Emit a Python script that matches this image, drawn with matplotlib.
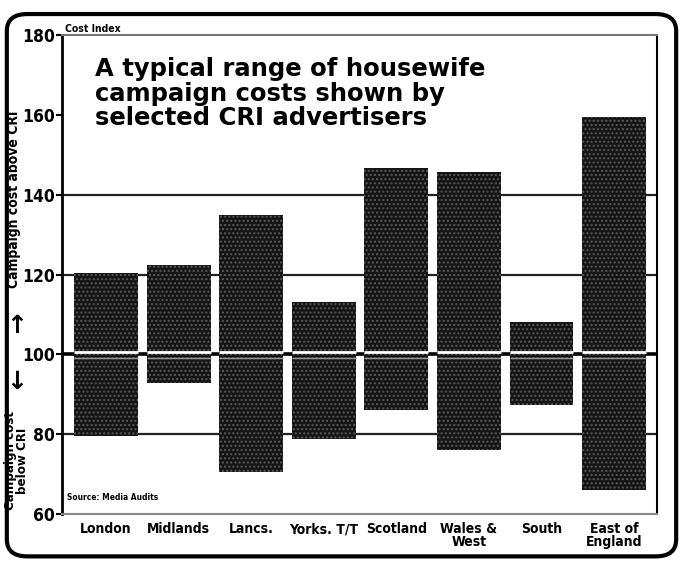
import matplotlib
matplotlib.use("Agg")
import matplotlib.pyplot as plt
from matplotlib.patches import FancyBboxPatch

# ---- data ----
regions = ["London", "Midlands", "Lancs.", "Yorks. T/T", "Scotland",
           "Wales &\nWest", "South", "East of\nEngland"]
cost_high = [120.3, 122.4, 135.0, 113.0, 146.6, 145.6, 108.2, 159.4]
cost_low = [79.5, 92.8, 70.5, 78.8, 86.1, 76.0, 87.4, 66.0]
yticks = [60, 80, 100, 120, 140, 160, 180]

cond = dict(family="DejaVu Sans", fontstretch="condensed", fontweight="bold")

fig = plt.figure(figsize=(6.83, 5.62), dpi=100)
ax = fig.add_axes([0.0908, 0.0854, 0.871, 0.8523])

x = list(range(len(regions)))
heights = [h - l for h, l in zip(cost_high, cost_low)]

# grid lines behind bars
for g in [80, 120, 140]:
    ax.axhline(g, color="#222222", lw=1.6, zorder=1)
ax.axhline(100, color="black", lw=2.6, zorder=1)

ax.bar(x, heights, bottom=cost_low, width=0.88, color="#151515",
       edgecolor="#5a5a5a", linewidth=0, hatch="....", zorder=2)
# white stripe across each bar at the index line
for xi in x:
    ax.hlines(100.6, xi - 0.44, xi + 0.44, color="white", lw=2.0, zorder=3)
    ax.hlines(99.2, xi - 0.44, xi + 0.44, color="#9a9a9a", lw=1.0, zorder=3)

ax.set_xlim(-0.606, 7.59)
ax.set_ylim(60, 180)
ax.set_yticks(yticks)
ax.set_yticklabels([str(t) for t in yticks], fontsize=12.5, **cond)
ax.tick_params(axis="y", length=4, width=1.5, pad=1)
ax.set_xticks(x)
ax.set_xticklabels(regions, fontsize=10, linespacing=0.85, **cond)
ax.tick_params(axis="x", length=0, pad=6)

ax.spines["left"].set_linewidth(2.0)
ax.spines["top"].set_color("#777777")
ax.spines["top"].set_linewidth(1.5)
ax.spines["bottom"].set_color("#888888")
ax.spines["bottom"].set_linewidth(1.5)
ax.spines["right"].set_linewidth(1.5)

# title inside the plot
ax.text(0.055, 0.955, "A typical range of housewife\ncampaign costs shown by\nselected CRI advertisers",
        transform=ax.transAxes, ha="left", va="top", fontsize=17.5,
        fontweight="heavy", family="DejaVu Sans", linespacing=1.05)

ax.text(0.005, 1.003, "Cost Index", transform=ax.transAxes, ha="left", va="bottom",
        fontsize=7.5, **cond)
ax.text(0.008, 0.035, "Source: Media Audits", transform=ax.transAxes, ha="left",
        va="center", fontsize=6, **cond)

# y-axis annotations with arrows
fig.text(0.021, 0.645, "Campaign cost above CRI", rotation=90, ha="center",
         va="center", fontsize=10, **cond)
fig.text(0.024, 0.18, "Campaign cost\nbelow CRI", rotation=90, ha="center",
         va="center", fontsize=9.5, linespacing=0.9, **cond)
fig.text(0.024, 0.42, "\u2191", ha="center", va="center", fontsize=18,
         fontweight="bold", family="DejaVu Sans")
fig.text(0.024, 0.32, "\u2193", ha="center", va="center", fontsize=18,
         fontweight="bold", family="DejaVu Sans")

# rounded outer frame
frame = FancyBboxPatch((0.01, 0.01), 0.98, 0.965,
                       boxstyle="round,pad=0,rounding_size=0.03",
                       transform=fig.transFigure, fill=False,
                       edgecolor="black", linewidth=3)
fig.patches.append(frame)

fig.savefig("out.png", dpi=100)
